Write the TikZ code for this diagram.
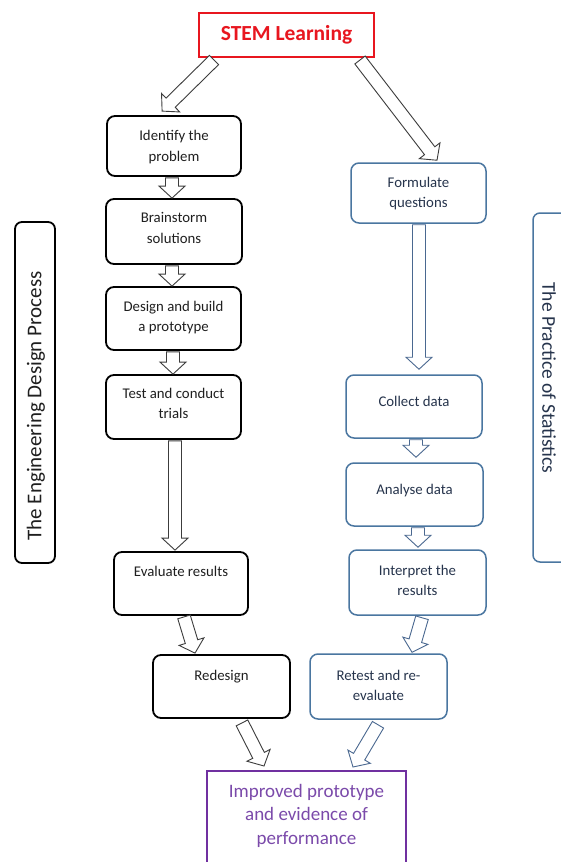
\documentclass[tikz,border=0pt]{standalone}
\usepackage{fontspec}
\setmainfont{Carlito}
\usetikzlibrary{calc}
\definecolor{stemred}{HTML}{E8161F}
\definecolor{boxblue}{HTML}{4A76A0}
\definecolor{txtblue}{HTML}{26344C}
\definecolor{arrgrey}{HTML}{3C3C3C}
\definecolor{arrblue}{HTML}{4A6890}
\definecolor{purp}{HTML}{7030A0}
\definecolor{txtpurp}{HTML}{7B4AAA}
\tikzset{
  bbox/.style={draw=black, line width=1.8pt, rounded corners=8pt, inner sep=0pt},
  ubox/.style={draw=boxblue, line width=1.5pt, rounded corners=8pt, inner sep=0pt},
  btext/.style={anchor=north, align=center, font=\fontsize{14.8}{20.5}\selectfont, text=black!88, inner sep=0pt},
  utext/.style={btext, text=txtblue},
  barrow/.style={draw=arrgrey, fill=white, line width=0.9pt, line join=miter},
  uarrow/.style={barrow, draw=arrblue},
}
\newcommand{\blockarrow}[3][]{%
  \coordinate (baA) at (#2);
  \coordinate (baB) at (#3);
  \coordinate (baH) at ($(baB)!12pt!(baA)$);
  \draw[barrow,#1] ($(baA)!6.5pt!90:(baB)$) -- ($(baH)!6.5pt!-90:(baA)$)
    -- ($(baH)!13pt!-90:(baA)$) -- (baB) -- ($(baH)!13pt!90:(baA)$)
    -- ($(baH)!6.5pt!90:(baA)$) -- ($(baA)!6.5pt!-90:(baB)$) -- cycle;}
\begin{document}
\begin{tikzpicture}[x=1pt,y=-1pt]
\useasboundingbox (0,0) rectangle (561,862);
\fill[white] (0,0) rectangle (561,862);

% top box
\node[draw=stemred, line width=2pt, minimum width=175pt, minimum height=44pt, inner sep=0pt,
      font=\fontsize{21.5}{24}\selectfont\bfseries, text=stemred] (stem) at (286.5,35) {STEM Learning};

% left column
\node[bbox, minimum width=134pt, minimum height=60pt] (b1) at (174,146) {};
\node[bbox, minimum width=136pt, minimum height=65pt] (b2) at (174,231.5) {};
\node[bbox, minimum width=135pt, minimum height=63pt] (b3) at (173.5,318.5) {};
\node[bbox, minimum width=135pt, minimum height=64pt] (b4) at (173.5,407) {};
\node[bbox, minimum width=134pt, minimum height=63pt] (b5) at (181,583.5) {};
\node[bbox, minimum width=137pt, minimum height=63pt] (b6) at (221.5,686.5) {};
\node[btext] (b1t) at ([yshift=-15pt]b1.north) {Identify the\\problem};
\node[btext] (b2t) at ([yshift=-14.5pt]b2.north) {Brainstorm\\solutions};
\node[btext] (b3t) at ([yshift=-14.5pt]b3.north) {Design and build\\a prototype};
\node[btext] (b4t) at ([yshift=-13.5pt]b4.north) {Test and conduct\\trials};
\node[btext] (b5t) at ([yshift=-15pt]b5.north) {Evaluate results};
\node[btext] (b6t) at ([yshift=-15.5pt]b6.north) {Redesign};

% right column
\node[ubox, minimum width=135pt, minimum height=60pt] (r1) at (418.5,193) {};
\node[ubox, minimum width=136pt, minimum height=63pt] (r2) at (414,406.5) {};
\node[ubox, minimum width=137pt, minimum height=63pt] (r3) at (414.5,494.5) {};
\node[ubox, minimum width=137pt, minimum height=65pt] (r4) at (417.5,582.5) {};
\node[ubox, minimum width=137pt, minimum height=65pt] (r5) at (378.5,686.5) {};
\node[utext] (r1t) at ([yshift=-14.5pt]r1.north) {Formulate\\questions};
\node[utext] (r2t) at ([yshift=-22pt]r2.north) {Collect data};
\node[utext] (r3t) at ([yshift=-22pt]r3.north) {Analyse data};
\node[utext] (r4t) at ([yshift=-15.5pt]r4.north) {Interpret the\\results};
\node[utext] (r5t) at ([yshift=-16.5pt]r5.north) {Retest and re-\\evaluate};

% bottom box
\node[draw=purp, line width=2pt, minimum width=199pt, minimum height=130pt, inner sep=0pt, anchor=north] (imp) at (306.5,770) {};
\node[anchor=north, align=center, inner sep=0pt, font=\fontsize{19}{23.5}\selectfont, text=txtpurp] (impt) at ([yshift=-14pt]imp.north) {Improved prototype\\and evidence of\\performance};

% side boxes
\node[draw=black, line width=1.8pt, rounded corners=7pt, minimum width=40pt, minimum height=341pt, inner sep=0pt] (eng) at (35,392.5) {};
\node[rotate=90, inner sep=0pt, font=\fontsize{21}{24}\selectfont, text=black!88] (engt) at (36,406) {The Engineering Design Process};
\node[draw=boxblue, line width=1.5pt, rounded corners=7pt, minimum width=48pt, minimum height=349pt, inner sep=0pt] (stat) at (557,387.5) {};
\node[rotate=-90, inner sep=0pt, font=\fontsize{19.5}{22}\selectfont, text=txtblue] (statt) at (549,378) {The Practice of Statistics};

% arrows
\blockarrow{$(stem.south west)+(16,2)$}{$(b1.north west)+(56,-4)$}
\blockarrow{$(stem.south east)+(-15,2)$}{$(r1.north)+(18.5,-2)$}
\blockarrow{$(b1.south)+(-2,1)$}{$(b2.north)+(-2,0)$}
\blockarrow{$(b2.south)+(-2,1)$}{$(b3.north)+(-1.5,0)$}
\blockarrow{$(b3.south)+(-0.5,1)$}{$(b4.north)+(-0.5,0)$}
\blockarrow{$(b4.south)+(1.5,1)$}{$(b5.north)+(-6,-1)$}
\blockarrow{$(b5.south)+(3,1)$}{$(b6.north)+(-26.5,-1)$}
\blockarrow{$(b6.south)+(20.5,4)$}{$(imp.north)+(-42.5,-4)$}
\blockarrow[uarrow]{$(r1.south)+(0.5,1)$}{$(r2.north)+(5,-5)$}
\blockarrow[uarrow]{$(r2.south)+(2,1)$}{$(r3.north)+(1.5,-5)$}
\blockarrow[uarrow]{$(r3.south)+(3.5,1)$}{$(r4.north)+(0.5,-2)$}
\blockarrow[uarrow]{$(r4.south)+(4.5,2)$}{$(r5.north)+(33.5,-1)$}
\blockarrow[uarrow]{$(r5.south)+(-0.5,5)$}{$(imp.north)+(46.5,-3)$}
\end{tikzpicture}
\end{document}
